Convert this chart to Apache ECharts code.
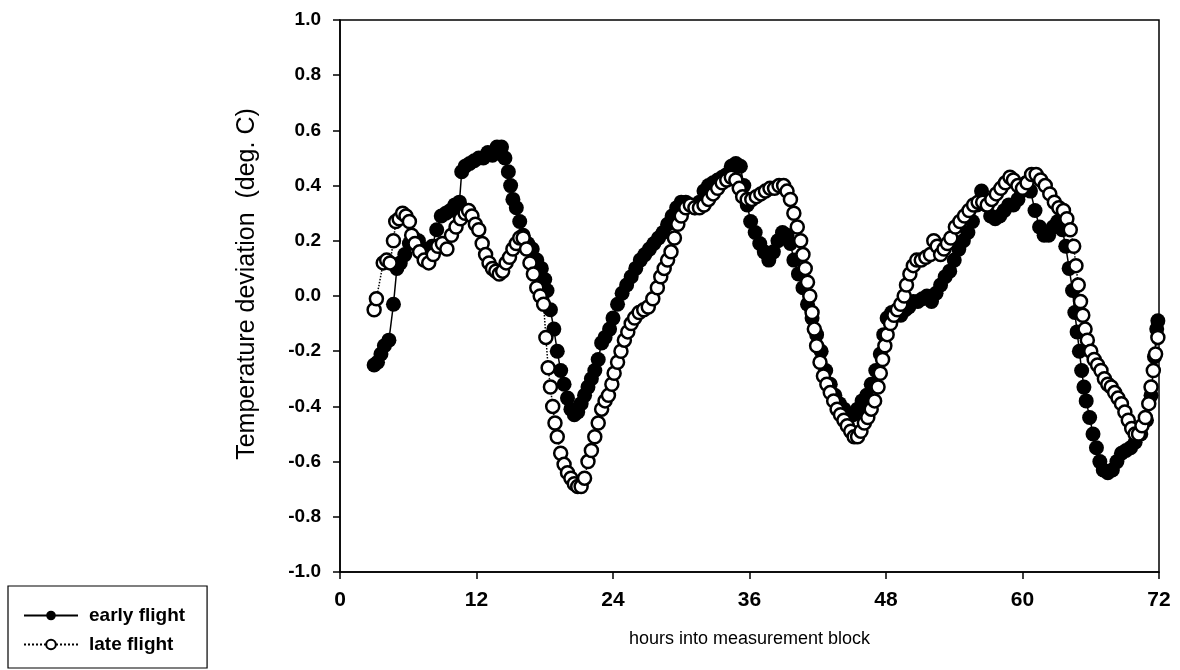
<!DOCTYPE html>
<html lang="en">
<head>
<meta charset="utf-8" />
<title>early vs late flight temperature deviation</title>
<script src="https://cdn.jsdelivr.net/npm/echarts@6/dist/echarts.min.js"></script>
</head>
<body style="margin:0;background:#fff">
<div id="chart" style="width:1180px;height:670px"></div>
<script>
const earlyHours = [
  3.0, 3.3, 3.6, 3.9, 4.3, 4.7, 5.0, 5.3, 5.7, 6.1,
  6.5, 6.9, 7.3, 7.7, 8.1, 8.5, 8.9, 9.3, 9.7, 10.1,
  10.5, 10.7, 11.0, 11.4, 11.8, 12.2, 12.6, 13.0, 13.4, 13.8,
  14.2, 14.5, 14.8, 15.0, 15.2, 15.5, 15.8, 16.1, 16.5, 16.9,
  17.3, 17.7, 18.0, 18.2, 18.5, 18.8, 19.1, 19.4, 19.7, 20.0,
  20.3, 20.6, 20.9, 21.2, 21.5, 21.8, 22.1, 22.4, 22.7, 23.0,
  23.3, 23.7, 24.0, 24.4, 24.8, 25.2, 25.6, 26.0, 26.4, 26.8,
  27.2, 27.6, 28.0, 28.4, 28.8, 29.2, 29.6, 30.0, 30.4, 30.8,
  31.2, 31.6, 32.0, 32.4, 32.8, 33.2, 33.6, 34.0, 34.4, 34.8,
  35.2, 35.5, 35.8, 36.1, 36.5, 36.9, 37.3, 37.7, 38.1, 38.5,
  38.9, 39.3, 39.6, 39.9, 40.3, 40.7, 41.1, 41.5, 41.9, 42.3,
  42.7, 43.1, 43.5, 43.9, 44.3, 44.7, 45.1, 45.5, 45.9, 46.3,
  46.7, 47.1, 47.5, 47.8, 48.1, 48.5, 48.9, 49.3, 49.7, 50.0,
  50.4, 50.8, 51.2, 51.6, 52.0, 52.4, 52.8, 53.2, 53.6, 54.0,
  54.4, 54.8, 55.2, 55.6, 56.0, 56.4, 56.8, 57.2, 57.6, 58.0,
  58.4, 58.8, 59.2, 59.6, 59.9, 60.3, 60.7, 61.1, 61.5, 61.9,
  62.3, 62.7, 63.1, 63.5, 63.8, 64.1, 64.4, 64.6, 64.8, 65.0,
  65.2, 65.4, 65.6, 65.9, 66.2, 66.5, 66.8, 67.1, 67.5, 67.9,
  68.3, 68.7, 69.1, 69.5, 69.9, 70.4, 70.9, 71.3, 71.6, 71.8,
  71.9
]
const earlyTemp = [
  -0.25, -0.24, -0.21, -0.18, -0.16, -0.03, 0.10, 0.12, 0.15, 0.19,
  0.21, 0.20, 0.17, 0.15, 0.18, 0.24, 0.29, 0.30, 0.31, 0.33,
  0.34, 0.45, 0.47, 0.48, 0.49, 0.50, 0.50, 0.52, 0.51, 0.54,
  0.54, 0.50, 0.45, 0.40, 0.35, 0.32, 0.27, 0.22, 0.19, 0.17,
  0.13, 0.10, 0.06, 0.02, -0.05, -0.12, -0.20, -0.27, -0.32, -0.37,
  -0.41, -0.43, -0.42, -0.39, -0.36, -0.33, -0.30, -0.27, -0.23, -0.17,
  -0.15, -0.12, -0.08, -0.03, 0.01, 0.04, 0.07, 0.10, 0.13, 0.15,
  0.17, 0.19, 0.21, 0.23, 0.26, 0.29, 0.32, 0.34, 0.34, 0.33,
  0.32, 0.34, 0.38, 0.40, 0.41, 0.42, 0.43, 0.44, 0.47, 0.48,
  0.47, 0.40, 0.33, 0.27, 0.23, 0.19, 0.16, 0.13, 0.16, 0.20,
  0.23, 0.22, 0.19, 0.13, 0.08, 0.03, -0.03, -0.08, -0.14, -0.20,
  -0.27, -0.32, -0.36, -0.39, -0.41, -0.43, -0.43, -0.41, -0.38, -0.36,
  -0.32, -0.27, -0.21, -0.14, -0.08, -0.06, -0.07, -0.07, -0.05, -0.04,
  -0.02, -0.02, -0.01, 0.00, -0.02, 0.01, 0.04, 0.07, 0.09, 0.13,
  0.17, 0.20, 0.23, 0.27, 0.33, 0.38, 0.33, 0.29, 0.28, 0.29,
  0.31, 0.33, 0.33, 0.35, 0.38, 0.41, 0.38, 0.31, 0.25, 0.22,
  0.22, 0.25, 0.27, 0.24, 0.18, 0.10, 0.02, -0.06, -0.13, -0.20,
  -0.27, -0.33, -0.38, -0.44, -0.50, -0.55, -0.60, -0.63, -0.64, -0.63,
  -0.60, -0.57, -0.56, -0.55, -0.53, -0.50, -0.45, -0.36, -0.22, -0.12,
  -0.09
]
const lateHours = [
  3.0, 3.2, 3.8, 4.1, 4.4, 4.7, 4.9, 5.2, 5.5, 5.8,
  6.1, 6.3, 6.6, 7.0, 7.4, 7.8, 8.2, 8.6, 9.0, 9.4,
  9.8, 10.2, 10.6, 11.0, 11.3, 11.6, 11.9, 12.2, 12.5, 12.8,
  13.1, 13.4, 13.7, 14.0, 14.3, 14.6, 14.9, 15.2, 15.5, 15.8,
  16.1, 16.4, 16.7, 17.0, 17.3, 17.6, 17.9, 18.1, 18.3, 18.5,
  18.7, 18.9, 19.1, 19.4, 19.7, 20.0, 20.3, 20.6, 20.9, 21.2,
  21.5, 21.8, 22.1, 22.4, 22.7, 23.0, 23.3, 23.6, 23.9, 24.1,
  24.4, 24.7, 25.0, 25.3, 25.6, 25.9, 26.3, 26.7, 27.1, 27.5,
  27.9, 28.2, 28.5, 28.8, 29.1, 29.4, 29.7, 30.0, 30.4, 30.8,
  31.2, 31.6, 32.0, 32.4, 32.8, 33.2, 33.6, 34.0, 34.4, 34.8,
  35.1, 35.4, 35.8, 36.2, 36.6, 37.0, 37.4, 37.8, 38.2, 38.6,
  39.0, 39.3, 39.6, 39.9, 40.2, 40.5, 40.7, 40.9, 41.1, 41.3,
  41.5, 41.7, 41.9, 42.2, 42.5, 42.8, 43.1, 43.4, 43.7, 44.0,
  44.3, 44.6, 44.9, 45.2, 45.5, 45.8, 46.1, 46.4, 46.7, 47.0,
  47.3, 47.5, 47.7, 47.9, 48.1, 48.4, 48.7, 49.0, 49.3, 49.6,
  49.8, 50.1, 50.4, 50.7, 51.1, 51.5, 51.9, 52.2, 52.5, 52.8,
  53.1, 53.4, 53.7, 54.1, 54.5, 54.9, 55.3, 55.7, 56.1, 56.5,
  56.9, 57.3, 57.7, 58.1, 58.5, 58.9, 59.2, 59.6, 60.0, 60.4,
  60.8, 61.2, 61.6, 62.0, 62.4, 62.8, 63.2, 63.6, 63.9, 64.2,
  64.5, 64.7, 64.9, 65.1, 65.3, 65.5, 65.7, 66.0, 66.3, 66.6,
  66.9, 67.2, 67.5, 67.8, 68.1, 68.4, 68.7, 69.0, 69.3, 69.6,
  69.9, 70.2, 70.5, 70.8, 71.1, 71.3, 71.5, 71.7, 71.9
]
const lateTemp = [
  -0.05, -0.01, 0.12, 0.13, 0.12, 0.20, 0.27, 0.28, 0.30, 0.29,
  0.27, 0.22, 0.19, 0.16, 0.13, 0.12, 0.15, 0.18, 0.19, 0.17,
  0.22, 0.25, 0.28, 0.30, 0.31, 0.29, 0.26, 0.24, 0.19, 0.15,
  0.12, 0.10, 0.09, 0.08, 0.09, 0.12, 0.14, 0.17, 0.19, 0.21,
  0.21, 0.17, 0.12, 0.08, 0.03, 0.00, -0.03, -0.15, -0.26, -0.33,
  -0.40, -0.46, -0.51, -0.57, -0.61, -0.64, -0.66, -0.68, -0.69, -0.69,
  -0.66, -0.60, -0.56, -0.51, -0.46, -0.41, -0.38, -0.36, -0.32, -0.28,
  -0.24, -0.20, -0.16, -0.13, -0.10, -0.08, -0.06, -0.05, -0.04, -0.01,
  0.03, 0.07, 0.10, 0.13, 0.16, 0.21, 0.26, 0.29, 0.32, 0.33,
  0.32, 0.32, 0.33, 0.35, 0.37, 0.39, 0.41, 0.42, 0.43, 0.42,
  0.39, 0.36, 0.35, 0.35, 0.36, 0.37, 0.38, 0.39, 0.39, 0.40,
  0.40, 0.38, 0.35, 0.30, 0.25, 0.20, 0.15, 0.10, 0.05, 0.00,
  -0.06, -0.12, -0.18, -0.24, -0.29, -0.32, -0.35, -0.38, -0.41, -0.43,
  -0.45, -0.47, -0.49, -0.51, -0.51, -0.49, -0.46, -0.44, -0.41, -0.38,
  -0.33, -0.28, -0.23, -0.18, -0.14, -0.10, -0.07, -0.05, -0.03, 0.00,
  0.04, 0.08, 0.11, 0.13, 0.13, 0.14, 0.15, 0.20, 0.18, 0.15,
  0.17, 0.19, 0.21, 0.25, 0.27, 0.29, 0.31, 0.33, 0.34, 0.34,
  0.33, 0.35, 0.37, 0.39, 0.41, 0.43, 0.42, 0.40, 0.39, 0.41,
  0.44, 0.44, 0.42, 0.40, 0.37, 0.34, 0.32, 0.31, 0.28, 0.24,
  0.18, 0.11, 0.04, -0.02, -0.07, -0.12, -0.16, -0.20, -0.23, -0.25,
  -0.27, -0.30, -0.32, -0.33, -0.35, -0.37, -0.39, -0.42, -0.45, -0.48,
  -0.50, -0.50, -0.47, -0.44, -0.39, -0.33, -0.27, -0.21, -0.15
]

const font = 'Liberation Sans, Arial, sans-serif'

function pairs(xs, ys) {
  return xs.map((x, i) => [x, ys[i]])
}

let chart = echarts.init(document.getElementById('chart'))

chart.setOption({
  animation: false,
  backgroundColor: '#fff',
  grid: {
    left: 340, right: 21, top: 20, bottom: 98,
    show: true, borderColor: '#000', borderWidth: 1.5, backgroundColor: 'transparent'
  },
  legend: {
    orient: 'vertical',
    left: 8, bottom: 2,
    padding: [20, 22, 14, 15],
    itemGap: 10,
    itemWidth: 54, itemHeight: 12,
    borderColor: '#000', borderWidth: 1.2, borderRadius: 0,
    textStyle: { fontFamily: font, fontSize: 19, fontWeight: 'bold', color: '#000', padding: [0, 0, 0, 6] },
    data: ['early flight', 'late flight']
  },
  xAxis: {
    type: 'value',
    min: 0, max: 72, interval: 12,
    name: 'hours into measurement block',
    nameLocation: 'middle',
    nameGap: 58,
    nameTextStyle: { fontFamily: font, fontSize: 18, color: '#000' },
    axisLine: { onZero: false, lineStyle: { color: '#000', width: 1.5 } },
    axisTick: { length: 7, lineStyle: { color: '#000', width: 1.5 } },
    axisLabel: { fontFamily: font, fontSize: 21, fontWeight: 'bold', color: '#000', margin: 18 },
    splitLine: { show: false }
  },
  yAxis: {
    type: 'value',
    min: -1, max: 1, interval: 0.2,
    name: 'Temperature deviation  (deg. C)',
    nameLocation: 'middle',
    nameGap: 80,
    nameTextStyle: { fontFamily: font, fontSize: 25, color: '#000', padding: [0, 0, 0, 24] },
    axisLine: { show: true, onZero: false, lineStyle: { color: '#000', width: 1.5 } },
    axisTick: { show: true, length: 7, lineStyle: { color: '#000', width: 1.5 } },
    axisLabel: {
      fontFamily: font, fontSize: 19, fontWeight: 'bold', color: '#000', margin: 19,
      formatter: v => v.toFixed(1)
    },
    splitLine: { show: false }
  },
  series: [
    {
      name: 'early flight',
      type: 'line',
      data: pairs(earlyHours, earlyTemp),
      symbol: 'circle',
      symbolSize: 15,
      showAllSymbol: true,
      itemStyle: { color: '#000' },
      lineStyle: { color: '#000', width: 1.5 }
    },
    {
      name: 'late flight',
      type: 'line',
      data: pairs(lateHours, lateTemp),
      symbol: 'circle',
      symbolSize: 13,
      showAllSymbol: true,
      itemStyle: { color: '#fff', borderColor: '#000', borderWidth: 2.5 },
      lineStyle: { color: '#000', width: 1.5, type: 'dotted' }
    }
  ]
})
</script>
</body>
</html>
